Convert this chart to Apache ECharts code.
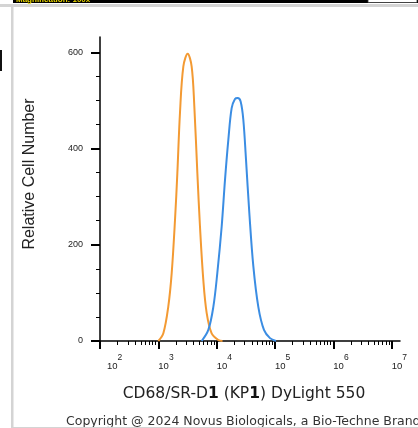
<!DOCTYPE html>
<html>
<head>
<meta charset="utf-8">
<script src="https://cdn.jsdelivr.net/npm/echarts@6/dist/echarts.min.js"></script>
<style>
  html, body { margin: 0; padding: 0; background: #ffffff; }
  #chart { width: 418px; height: 428px; }
</style>
</head>
<body>
<div id="chart"></div>
<script>
// ---- data (x is log10 of the fluorescence intensity) ----
var orangeLogIntensity = [3.00, 3.086, 3.17, 3.229, 3.286, 3.326, 3.371, 3.429, 3.503, 3.571, 3.617, 3.669, 3.714, 3.771, 3.829, 3.914, 4.03, 4.10];
var orangeCounts       = [0,    16,    71,   141,   252,   349,   474,   571,   597,   571,   488,   349,   238,   127,   58,    16,    2,    0];
var blueLogIntensity   = [3.743, 3.857, 3.943, 4.011, 4.086, 4.143, 4.20, 4.257, 4.314, 4.36, 4.411, 4.457, 4.503, 4.56, 4.629, 4.714, 4.811, 4.914, 5.017];
var blueCounts         = [0,     23,    71,    141,   238,   335,   418,  484,   503,   505,  498,   460,   377,   266,  155,   71,    23,    6,     0];

var xDecadeTicks = [2, 3, 4, 5, 6, 7];            // 10^2 ... 10^7
var xMinorMultipliers = [2, 3, 4, 5, 6, 7, 8, 9];
var yMajorTicks = [0, 200, 400, 600];
var yMinorTicks = [50, 100, 150, 250, 300, 350, 450, 500, 550];

var yTitle = 'Relative Cell Number';
var footer = 'Copyright @ 2024 Novus Biologicals, a Bio-Techne Brand';

// ---- build ----
function pairs(xs, ys) { return xs.map(function (x, i) { return [x, ys[i]]; }); }
var xMinorTicks = [];
xDecadeTicks.slice(0, -1).forEach(function (d) {
  xMinorMultipliers.forEach(function (m) { xMinorTicks.push(d + Math.log10(m)); });
});

var chart = echarts.init(document.getElementById('chart'), null, { renderer: 'canvas' });
var baseFont = 'Liberation Sans';
var wideFont = 'DejaVu Sans';

var option = {
  backgroundColor: '#ffffff',
  animation: false,
  grid: { left: 100, right: 18, top: 37, bottom: 87, outerBoundsMode: 'none' },
  xAxis: [
    {
      type: 'value', min: 2, max: 7.143, position: 'bottom',
      name: '{n|CD68/SR-D}{k|1}{n| (KP}{k|1}{n|) DyLight 550}',
      nameLocation: 'middle', nameGap: 45,
      nameTextStyle: {
        padding: [0, 12, 0, 0],
        rich: {
          n: { fontFamily: wideFont, fontSize: 15.5, color: '#222' },
          k: { fontFamily: wideFont, fontSize: 15.5, color: '#111', fontWeight: 'bold' }
        }
      },
      axisLine: { show: true, onZero: false, lineStyle: { color: '#000', width: 1.5 } },
      axisTick: { show: true, customValues: xDecadeTicks, length: 8, lineStyle: { color: '#000', width: 2 } },
      axisLabel: {
        show: true, customValues: xDecadeTicks, margin: 12, align: 'left',
        formatter: function (v) {
          var e = Math.round(v);
          return (e === 2 ? '{b2|10}' : '{b|10}') + '{s|' + e + '}';
        },
        rich: {
          b: { fontFamily: baseFont, fontSize: 9.5, color: '#222', lineHeight: 18, verticalAlign: 'bottom' },
          b2: { fontFamily: baseFont, fontSize: 9.5, color: '#222', lineHeight: 18, verticalAlign: 'bottom', padding: [0, 0, 0, 7] },
          s: { fontFamily: baseFont, fontSize: 8.5, color: '#222', lineHeight: 10, verticalAlign: 'top' }
        }
      },
      splitLine: { show: false }
    },
    {
      type: 'value', min: 2, max: 7.143, position: 'bottom',
      axisLine: { show: false },
      axisTick: { show: true, customValues: xMinorTicks, length: 4, lineStyle: { color: '#000', width: 1 } },
      axisLabel: { show: false },
      splitLine: { show: false }
    }
  ],
  yAxis: [
    {
      type: 'value', min: 0, max: 632, position: 'left',
      axisLine: { show: true, onZero: false, lineStyle: { color: '#000', width: 1.5 } },
      axisTick: { show: true, customValues: yMajorTicks, length: 9, lineStyle: { color: '#000', width: 2 } },
      axisLabel: { show: true, customValues: yMajorTicks, margin: 17, fontFamily: baseFont, fontSize: 9, color: '#222' },
      splitLine: { show: false }
    },
    {
      type: 'value', min: 0, max: 632, position: 'left', offset: 0,
      axisLine: { show: false },
      axisTick: { show: true, customValues: yMinorTicks, length: 4, lineStyle: { color: '#000', width: 1 } },
      axisLabel: { show: false },
      splitLine: { show: false }
    }
  ],
  series: [
    {
      name: 'Isotype', type: 'line', xAxisIndex: 0, yAxisIndex: 0,
      data: pairs(orangeLogIntensity, orangeCounts),
      smooth: 0.35, showSymbol: false, symbol: 'none',
      lineStyle: { color: '#F39A33', width: 2 }, z: 3
    },
    {
      name: 'CD68/SR-D1', type: 'line', xAxisIndex: 0, yAxisIndex: 0,
      data: pairs(blueLogIntensity, blueCounts),
      smooth: 0.35, showSymbol: false, symbol: 'none',
      lineStyle: { color: '#3B8DE3', width: 2 }, z: 4
    }
  ],
  graphic: [
    // screenshot frame decorations
    { type: 'rect', shape: { x: 13, y: 0, width: 405, height: 3 }, style: { fill: '#000' }, silent: true },
    { type: 'text', x: 16, y: -4, style: { text: 'Magnification: 100x', fontFamily: baseFont, fontSize: 8, fontWeight: 'bold', fill: '#e6d300' }, silent: true },
    { type: 'rect', shape: { x: 368, y: -1, width: 49, height: 3.5 }, style: { fill: '#fff', stroke: '#333', lineWidth: 0.8 }, silent: true },
    { type: 'rect', shape: { x: 0, y: 4, width: 418, height: 3 }, style: { fill: '#d4d4d4' }, silent: true },
    { type: 'rect', shape: { x: 11, y: 7, width: 2.5, height: 421 }, style: { fill: '#d4d4d4' }, silent: true },
    { type: 'rect', shape: { x: 0, y: 50, width: 2, height: 21 }, style: { fill: '#111' }, silent: true },
    // y axis title
    { type: 'text', x: 30, y: 174, rotation: Math.PI / 2,
      style: { text: yTitle, fontFamily: baseFont, fontSize: 16, fill: '#222', align: 'center', verticalAlign: 'middle' }, silent: true },
    // footer
    { type: 'text', x: 66, y: 422,
      style: { text: footer, fontFamily: wideFont, fontSize: 12.5, fill: '#333', align: 'left', verticalAlign: 'middle' }, silent: true },
    { type: 'rect', shape: { x: 13, y: 427, width: 405, height: 1 }, style: { fill: '#d4d4d4' }, silent: true }
  ]
};
chart.setOption(option);
</script>
</body>
</html>
